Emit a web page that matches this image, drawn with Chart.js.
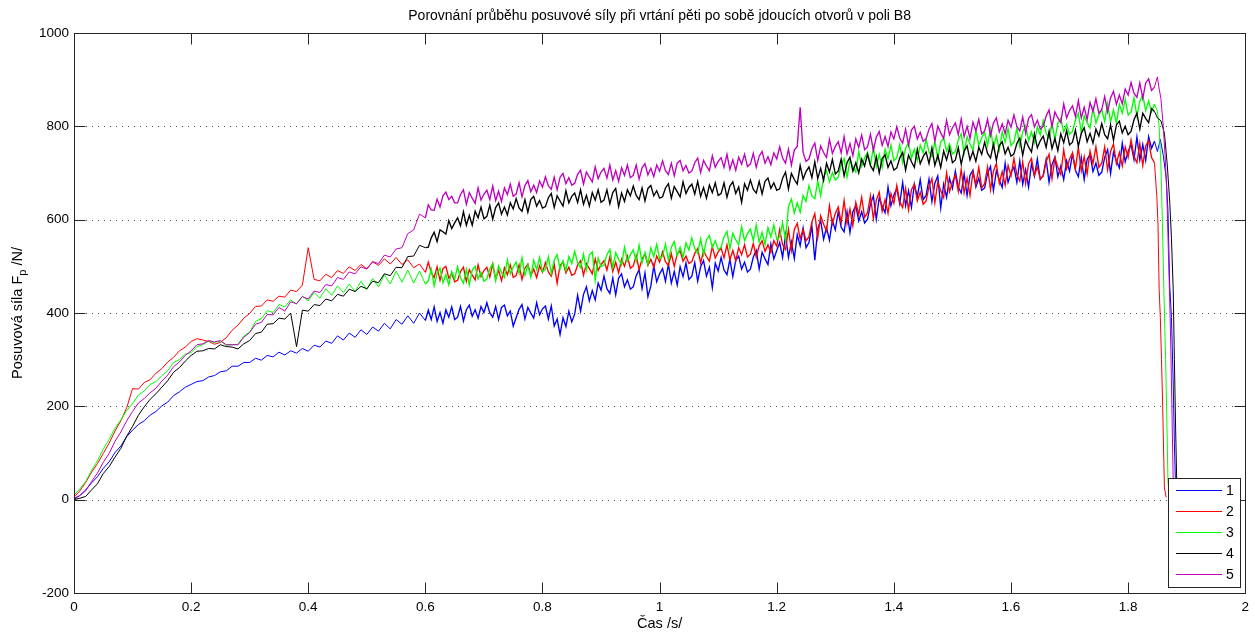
<!DOCTYPE html>
<html>
<head>
<meta charset="utf-8">
<script src="https://cdn.jsdelivr.net/npm/chart.js@4.4.1/dist/chart.umd.min.js"></script>
<style>
  html, body { margin: 0; padding: 0; background: #fff; }
  #plot { display: block; }
</style>
</head>
<body>
<canvas id="plot" width="1255" height="635" style="width:1255px;height:635px"></canvas>
<script>
// Posuvová síla – 5 holes, field B8. Values.

const chartTitle = 'Porovnání průběhu posuvové síly při vrtání pěti po sobě jdoucích otvorů v poli B8';
const seriesNames = ['1', '2', '3', '4', '5'];
const seriesColors = ['#0000ff', '#ff0000', '#00ff00', '#000000', '#bf00bf'];

const xTicks = [0, 0.2, 0.4, 0.6, 0.8, 1, 1.2, 1.4, 1.6, 1.8, 2];
const yTicks = [-200, 0, 200, 400, 600, 800, 1000];

// sample times: every 10 ms up to 0.60 s, then every 5 ms up to 1.84 s
const time = Array.from({ length: 61 }, (_, i) => i / 100)
    .concat(Array.from({ length: 248 }, (_, i) => +(0.605 + i * 0.005).toFixed(3)));

const force1 = [
  0, 9, 21, 36, 49, 67, 81, 101, 115, 135, 149,
  161, 169, 181, 189, 201, 209, 223, 231, 241, 247,
  253, 255, 263, 266, 274, 276, 286, 286, 294, 294,
  303, 299, 309, 306, 316, 310, 319, 314, 324, 318,
  331, 327, 340, 335, 351, 342, 357, 348, 364, 354,
  370, 361, 378, 366, 386, 376, 394, 378, 400, 384,
  406, 386, 413, 382, 401, 378, 407, 391, 413, 386,
  391, 414, 383, 407, 417, 393, 407, 389, 414, 401,
  422, 400, 391, 414, 386, 412, 417, 394, 404, 372,
  390, 408, 418, 387, 412, 400, 389, 422, 396, 409,
  415, 387, 415, 372, 387, 354, 390, 371, 404, 381,
  398, 438, 404, 440, 456, 426, 448, 428, 464, 449,
  479, 452, 442, 475, 439, 475, 484, 456, 471, 451,
  456, 480, 493, 452, 486, 435, 458, 501, 467, 484,
  495, 468, 505, 464, 489, 460, 499, 478, 507, 472,
  479, 508, 468, 499, 512, 479, 498, 454, 507, 490,
  519, 492, 482, 515, 478, 513, 522, 494, 509, 488,
  494, 520, 534, 494, 530, 516, 504, 548, 516, 534,
  551, 519, 568, 519, 552, 517, 568, 544, 582, 540,
  551, 587, 513, 580, 598, 558, 583, 556, 598, 578,
  617, 584, 574, 617, 572, 617, 630, 597, 617, 593,
  601, 633, 651, 601, 647, 629, 615, 670, 630, 653,
  667, 634, 680, 630, 662, 626, 676, 649, 686, 643,
  652, 687, 639, 678, 694, 625, 676, 648, 689, 667,
  704, 670, 657, 698, 652, 695, 706, 670, 689, 663,
  668, 699, 714, 662, 705, 685, 669, 721, 680, 700,
  713, 680, 726, 676, 707, 670, 720, 693, 730, 686,
  695, 729, 680, 718, 734, 692, 715, 686, 726, 704,
  741, 706, 692, 733, 686, 729, 740, 703, 721, 695,
  702, 734, 750, 699, 744, 726, 711, 764, 724, 746,
  761, 729, 777, 728, 761, 727, 778, 753
];
const force2 = [
  5, 19, 37, 59, 77, 99, 121, 147, 169, 197, 238,
  237, 251, 257, 271, 281, 295, 305, 319, 327, 339,
  345, 342, 339, 333, 337, 347, 363, 374, 389, 399,
  414, 415, 428, 425, 436, 434, 449, 446, 460, 540,
  472, 469, 483, 476, 491, 485, 499, 491, 504, 495,
  510, 502, 516, 505, 519, 504, 514, 497, 505, 487,
  509, 487, 476, 499, 470, 495, 500, 475, 485, 467,
  470, 489, 498, 468, 493, 481, 471, 503, 478, 491,
  498, 477, 505, 473, 492, 469, 497, 482, 503, 476,
  480, 503, 472, 496, 505, 480, 494, 476, 501, 487,
  508, 488, 479, 504, 464, 502, 509, 486, 498, 481,
  484, 503, 512, 481, 506, 495, 484, 516, 491, 504,
  512, 492, 520, 489, 509, 486, 515, 500, 522, 496,
  501, 523, 493, 516, 526, 502, 515, 498, 522, 509,
  531, 510, 502, 527, 500, 526, 533, 511, 522, 506,
  510, 528, 538, 507, 533, 521, 511, 543, 518, 531,
  539, 518, 546, 514, 534, 512, 540, 525, 546, 520,
  526, 549, 520, 544, 555, 532, 546, 530, 555, 543,
  579, 546, 536, 579, 534, 579, 592, 559, 579, 555,
  563, 595, 613, 562, 608, 590, 576, 630, 591, 613,
  627, 594, 641, 591, 623, 587, 637, 611, 648, 605,
  615, 651, 602, 642, 659, 618, 643, 614, 656, 635,
  673, 638, 626, 667, 621, 664, 676, 640, 659, 633,
  640, 671, 688, 636, 681, 662, 647, 700, 660, 681,
  695, 661, 708, 657, 689, 652, 702, 675, 712, 668,
  677, 713, 664, 704, 720, 678, 703, 674, 716, 694,
  731, 696, 683, 724, 677, 720, 731, 695, 713, 687,
  693, 724, 740, 688, 732, 713, 697, 750, 709, 730,
  743, 709, 755, 704, 735, 698, 747, 720, 756, 712,
  721, 756, 707, 746, 762, 720, 744, 715, 756, 734,
  771, 736, 722, 763, 716, 758, 769, 733
];
const force3 = [
  10, 23, 39, 63, 83, 108, 129, 153, 171, 191, 206,
  224, 233, 247, 253, 266, 276, 294, 300, 312, 315,
  328, 332, 340, 337, 340, 331, 332, 333, 351, 359,
  382, 388, 405, 401, 418, 413, 428, 419, 436, 426,
  444, 432, 452, 438, 458, 444, 462, 446, 468, 450,
  474, 456, 482, 462, 490, 466, 492, 464, 490, 462,
  469, 494, 458, 485, 496, 465, 482, 460, 489, 473,
  499, 475, 464, 494, 460, 492, 500, 473, 487, 468,
  473, 495, 506, 469, 501, 487, 476, 514, 484, 499,
  509, 485, 518, 481, 503, 477, 513, 493, 519, 488,
  494, 520, 485, 513, 525, 494, 512, 491, 521, 506,
  532, 507, 497, 526, 492, 524, 531, 470, 518, 499,
  503, 525, 536, 498, 529, 515, 503, 541, 511, 525,
  535, 511, 545, 508, 530, 504, 540, 521, 547, 516,
  522, 548, 513, 541, 553, 523, 541, 520, 550, 535,
  561, 538, 528, 559, 525, 557, 566, 540, 555, 536,
  541, 563, 575, 538, 571, 557, 546, 585, 555, 570,
  580, 555, 589, 552, 573, 547, 583, 563, 589, 558,
  563, 593, 556, 628, 644, 614, 636, 616, 652, 639,
  673, 651, 645, 683, 651, 691, 705, 681, 701, 685,
  691, 717, 731, 691, 727, 714, 702, 746, 714, 732,
  744, 717, 755, 714, 740, 712, 751, 731, 760, 726,
  733, 761, 722, 753, 765, 732, 751, 727, 760, 743,
  772, 745, 735, 768, 731, 766, 775, 747, 762, 741,
  746, 771, 784, 743, 778, 762, 749, 792, 759, 776,
  787, 759, 796, 754, 779, 749, 788, 766, 795, 759,
  766, 796, 757, 788, 802, 769, 788, 765, 799, 782,
  812, 785, 775, 808, 772, 807, 817, 788, 804, 783,
  789, 814, 828, 787, 823, 808, 796, 839, 807, 824,
  836, 810, 849, 809, 835, 807, 847, 828, 858, 824,
  831, 861, 822, 854, 867, 834, 854, 831
];
const force4 = [
  0, 3, 7, 21, 34, 56, 71, 91, 110, 136, 157,
  181, 199, 215, 227, 241, 255, 273, 283, 297, 309,
  318, 319, 324, 323, 332, 328, 327, 323, 334, 341,
  356, 359, 376, 377, 389, 387, 400, 328, 406, 404,
  418, 416, 430, 426, 440, 436, 451, 446, 457, 452,
  468, 465, 484, 480, 498, 497, 521, 522, 545, 540,
  541, 561, 573, 553, 578, 574, 569, 598, 581, 593,
  604, 587, 617, 588, 609, 588, 618, 604, 627, 602,
  607, 631, 601, 626, 636, 612, 627, 610, 636, 623,
  645, 625, 618, 643, 616, 643, 650, 629, 641, 625,
  628, 647, 656, 626, 651, 640, 629, 662, 636, 650,
  657, 637, 664, 633, 652, 629, 658, 642, 664, 637,
  642, 664, 634, 658, 667, 628, 657, 639, 664, 651,
  672, 652, 643, 668, 640, 667, 673, 651, 662, 646,
  649, 668, 677, 646, 671, 660, 649, 681, 656, 669,
  676, 655, 682, 650, 669, 646, 674, 658, 679, 652,
  656, 679, 648, 672, 681, 656, 670, 637, 677, 663,
  685, 665, 657, 682, 655, 682, 689, 667, 679, 663,
  666, 689, 702, 666, 699, 686, 676, 716, 687, 703,
  713, 690, 724, 688, 710, 684, 721, 702, 729, 698,
  704, 730, 694, 722, 734, 704, 722, 700, 730, 715,
  740, 716, 705, 735, 700, 731, 739, 712, 726, 706,
  711, 732, 744, 706, 738, 724, 712, 751, 720, 735,
  745, 720, 754, 716, 738, 712, 747, 728, 753, 722,
  728, 754, 719, 747, 758, 728, 746, 725, 755, 740,
  766, 742, 732, 762, 727, 759, 767, 741, 755, 736,
  741, 763, 775, 738, 770, 756, 745, 784, 754, 769,
  779, 755, 789, 752, 774, 748, 784, 765, 791, 760,
  766, 792, 757, 785, 797, 767, 785, 764, 794, 779,
  806, 782, 773, 803, 770, 803, 811, 786, 800, 782,
  789, 814, 828, 794, 828, 817, 808, 838
];
const force5 = [
  3, 9, 19, 39, 57, 80, 99, 125, 145, 169, 189,
  207, 217, 229, 239, 254, 267, 285, 295, 309, 319,
  332, 334, 341, 338, 341, 332, 332, 332, 348, 358,
  376, 380, 397, 396, 412, 404, 424, 420, 435, 430,
  447, 444, 461, 458, 476, 472, 488, 484, 499, 494,
  510, 506, 524, 520, 537, 540, 570, 578, 612, 604,
  632, 621, 620, 644, 627, 651, 659, 643, 650, 636,
  636, 654, 664, 633, 658, 646, 635, 668, 642, 655,
  663, 643, 672, 641, 661, 639, 668, 654, 676, 650,
  655, 679, 649, 673, 684, 660, 674, 658, 683, 670,
  692, 673, 665, 691, 664, 691, 699, 677, 690, 674,
  678, 697, 706, 676, 702, 691, 681, 713, 688, 702,
  710, 689, 717, 685, 705, 682, 711, 695, 717, 690,
  695, 717, 687, 711, 720, 696, 710, 692, 717, 704,
  726, 705, 697, 721, 694, 721, 727, 705, 716, 700,
  704, 722, 732, 701, 727, 715, 705, 737, 712, 725,
  733, 712, 740, 708, 728, 706, 734, 719, 740, 714,
  719, 742, 712, 736, 746, 721, 735, 718, 743, 730,
  756, 732, 721, 751, 717, 749, 757, 841, 744, 725,
  730, 752, 764, 727, 758, 744, 733, 772, 742, 757,
  767, 743, 778, 741, 763, 737, 773, 755, 781, 750,
  756, 783, 748, 777, 789, 759, 778, 757, 788, 773,
  799, 775, 764, 794, 760, 792, 800, 773, 787, 768,
  773, 794, 806, 768, 800, 786, 774, 813, 782, 797,
  807, 782, 816, 778, 800, 774, 809, 790, 815, 784,
  790, 815, 780, 807, 818, 788, 805, 784, 813, 798,
  824, 800, 790, 820, 785, 817, 825, 799, 813, 794,
  800, 822, 835, 799, 831, 818, 808, 848, 818, 834,
  844, 821, 855, 818, 841, 815, 851, 832, 859, 828,
  836, 864, 831, 861, 875, 847, 867, 848, 880, 867,
  894, 871, 862, 893, 860, 893, 902, 877
];

// the drill exit: force falls to zero within a few ms
const tailTime1 = [1.845, 1.85, 1.855, 1.86, 1.865, 1.868, 1.871, 1.874, 1.877, 1.879, 1.881, 1.883];
const tailForce1 = [768, 746, 772, 738, 690, 620, 460, 390, 250, 120, 30, 6];
const tailTime2 = [1.845, 1.849, 1.851, 1.853, 1.855, 1.857, 1.859, 1.861, 1.862, 1.865];
const tailForce2 = [722, 650, 590, 450, 390, 300, 200, 80, 25, 5];
const tailTime3 = [1.845, 1.85, 1.853, 1.856, 1.858, 1.861, 1.864, 1.866, 1.868, 1.87];
const tailForce3 = [848, 832, 800, 715, 620, 450, 300, 180, 40, 8];
const tailTime4 = [1.845, 1.85, 1.856, 1.862, 1.867, 1.871, 1.874, 1.877, 1.879, 1.881, 1.883, 1.885];
const tailForce4 = [832, 818, 812, 785, 715, 640, 560, 450, 300, 160, 40, 8];
const tailTime5 = [1.845, 1.85, 1.853, 1.856, 1.86, 1.863, 1.866, 1.869, 1.871, 1.873, 1.875, 1.877, 1.879];
const tailForce5 = [884, 906, 880, 860, 800, 740, 660, 520, 430, 320, 180, 40, 8];

const allForces = [force1, force2, force3, force4, force5];
const allTailTimes = [tailTime1, tailTime2, tailTime3, tailTime4, tailTime5];
const allTailForces = [tailForce1, tailForce2, tailForce3, tailForce4, tailForce5];

const FONT = "'Liberation Sans', Arial, Helvetica, sans-serif";
const AXIS_COLOR = '#262626';

const datasets = allForces.map((vals, k) => ({
    label: seriesNames[k],
    data: time.map((t, i) => ({ x: t, y: vals[i] }))
        .concat(allTailTimes[k].map((t, i) => ({ x: t, y: allTailForces[k][i] }))),
    borderColor: seriesColors[k],
    borderWidth: 1,
    // the noisy part of the record reads as a band, a touch heavier
    segment: { borderWidth: c => (c.p0.parsed.x >= 0.6 && c.p0.parsed.x < 1.845 ? 1.35 : 1) },
    pointRadius: 0,
    fill: false,
    tension: 0,
    order: seriesNames.length - k   // later holes drawn on top, like MATLAB
}));

// grid, inward ticks, box, legend and titles drawn MATLAB-style
const matlabAxes = {
    id: 'matlabAxes',
    beforeDatasetsDraw(chart) {
        const { ctx, chartArea: a, scales: { y } } = chart;
        ctx.save();
        ctx.strokeStyle = '#555';
        ctx.lineWidth = 1;
        ctx.setLineDash([1, 5]);
        yTicks.forEach(v => {
            if (v === yTicks[0] || v === yTicks[yTicks.length - 1]) return;
            const py = Math.round(y.getPixelForValue(v)) + 0.5;
            ctx.beginPath();
            ctx.moveTo(a.left, py);
            ctx.lineTo(a.right, py);
            ctx.stroke();
        });
        ctx.restore();
    },
    afterDraw(chart) {
        const { ctx, chartArea: a, scales: { x, y } } = chart;
        const L = Math.round(a.left) + 0.5, R = Math.round(a.right) + 0.5;
        const T = Math.round(a.top) + 0.5, B = Math.round(a.bottom) + 0.5;
        const tick = 11;
        ctx.save();
        ctx.strokeStyle = AXIS_COLOR;
        ctx.lineWidth = 1;
        ctx.strokeRect(L, T, R - L, B - T);
        ctx.beginPath();
        xTicks.slice(1, -1).forEach(v => {
            const px = Math.round(x.getPixelForValue(v)) + 0.5;
            ctx.moveTo(px, B); ctx.lineTo(px, B - tick);
            ctx.moveTo(px, T); ctx.lineTo(px, T + tick);
        });
        yTicks.slice(1, -1).forEach(v => {
            const py = Math.round(y.getPixelForValue(v)) + 0.5;
            ctx.moveTo(L, py); ctx.lineTo(L + tick, py);
            ctx.moveTo(R, py); ctx.lineTo(R - tick, py);
        });
        ctx.stroke();

        // title
        ctx.fillStyle = '#000';
        ctx.font = '14px ' + FONT;
        ctx.textAlign = 'center';
        ctx.textBaseline = 'middle';
        ctx.fillText(chartTitle, (a.left + a.right) / 2, 16);

        // y axis title with subscript
        const main = 'Posuvová síla F', sub = 'p', rest = ' /N/';
        ctx.font = '14.5px ' + FONT;
        const w1 = ctx.measureText(main).width, w3 = ctx.measureText(rest).width;
        ctx.font = '11px ' + FONT;
        const w2 = ctx.measureText(sub).width;
        ctx.translate(22, (a.top + a.bottom) / 2);
        ctx.rotate(-Math.PI / 2);
        ctx.textAlign = 'left';
        ctx.textBaseline = 'alphabetic';
        const x0 = -(w1 + w2 + w3) / 2;
        ctx.font = '14.5px ' + FONT;
        ctx.fillText(main, x0, 0);
        ctx.font = '11px ' + FONT;
        ctx.fillText(sub, x0 + w1, 4);
        ctx.font = '14.5px ' + FONT;
        ctx.fillText(rest, x0 + w1 + w2, 0);
        ctx.restore();

        // legend box
        const lx = 1168, ly = 478, lw = 72, lh = 109;
        ctx.save();
        ctx.fillStyle = '#fff';
        ctx.fillRect(lx, ly, lw, lh);
        ctx.strokeStyle = AXIS_COLOR;
        ctx.lineWidth = 1;
        ctx.strokeRect(lx + 0.5, ly + 0.5, lw, lh);
        ctx.font = '14px ' + FONT;
        ctx.textAlign = 'left';
        ctx.textBaseline = 'middle';
        chart.data.datasets.forEach((ds, i) => {
            const yy = ly + 12.5 + i * 21;
            ctx.strokeStyle = ds.borderColor;
            ctx.beginPath();
            ctx.moveTo(lx + 8, yy);
            ctx.lineTo(lx + 54, yy);
            ctx.stroke();
            ctx.fillStyle = '#000';
            ctx.fillText(ds.label, lx + 58, yy + 1);
        });
        ctx.restore();
    }
};

new Chart(document.getElementById('plot'), {
    type: 'line',
    data: { datasets },
    options: {
        responsive: false,
        animation: false,
        events: [],
        layout: { padding: { left: 0, right: 8, top: 33, bottom: 0 } },
        plugins: {
            legend: { display: false },
            tooltip: { enabled: false },
            title: { display: false }
        },
        scales: {
            x: {
                type: 'linear',
                min: 0,
                max: 2,
                afterBuildTicks: s => { s.ticks = xTicks.map(v => ({ value: v })); },
                afterFit: s => { s.height = 42; },
                grid: { display: false, drawTicks: false },
                border: { display: false },
                ticks: {
                    color: '#000', padding: 6, maxRotation: 0, autoSkip: false,
                    font: { family: FONT, size: 13.5 },
                    callback: v => String(v)
                },
                title: {
                    display: true, text: 'Čas /s/', color: '#000',
                    font: { family: FONT, size: 14.5 },
                    padding: { top: 0, bottom: 2 }
                }
            },
            y: {
                type: 'linear',
                min: -200,
                max: 1000,
                afterBuildTicks: s => { s.ticks = yTicks.map(v => ({ value: v })); },
                afterFit: s => { s.width = 74; },
                grid: { display: false, drawTicks: false },
                border: { display: false },
                ticks: {
                    color: '#000', padding: 5,
                    font: { family: FONT, size: 13.5 },
                    callback: v => String(v)
                }
            }
        }
    },
    plugins: [matlabAxes]
});
</script>
</body>
</html>
